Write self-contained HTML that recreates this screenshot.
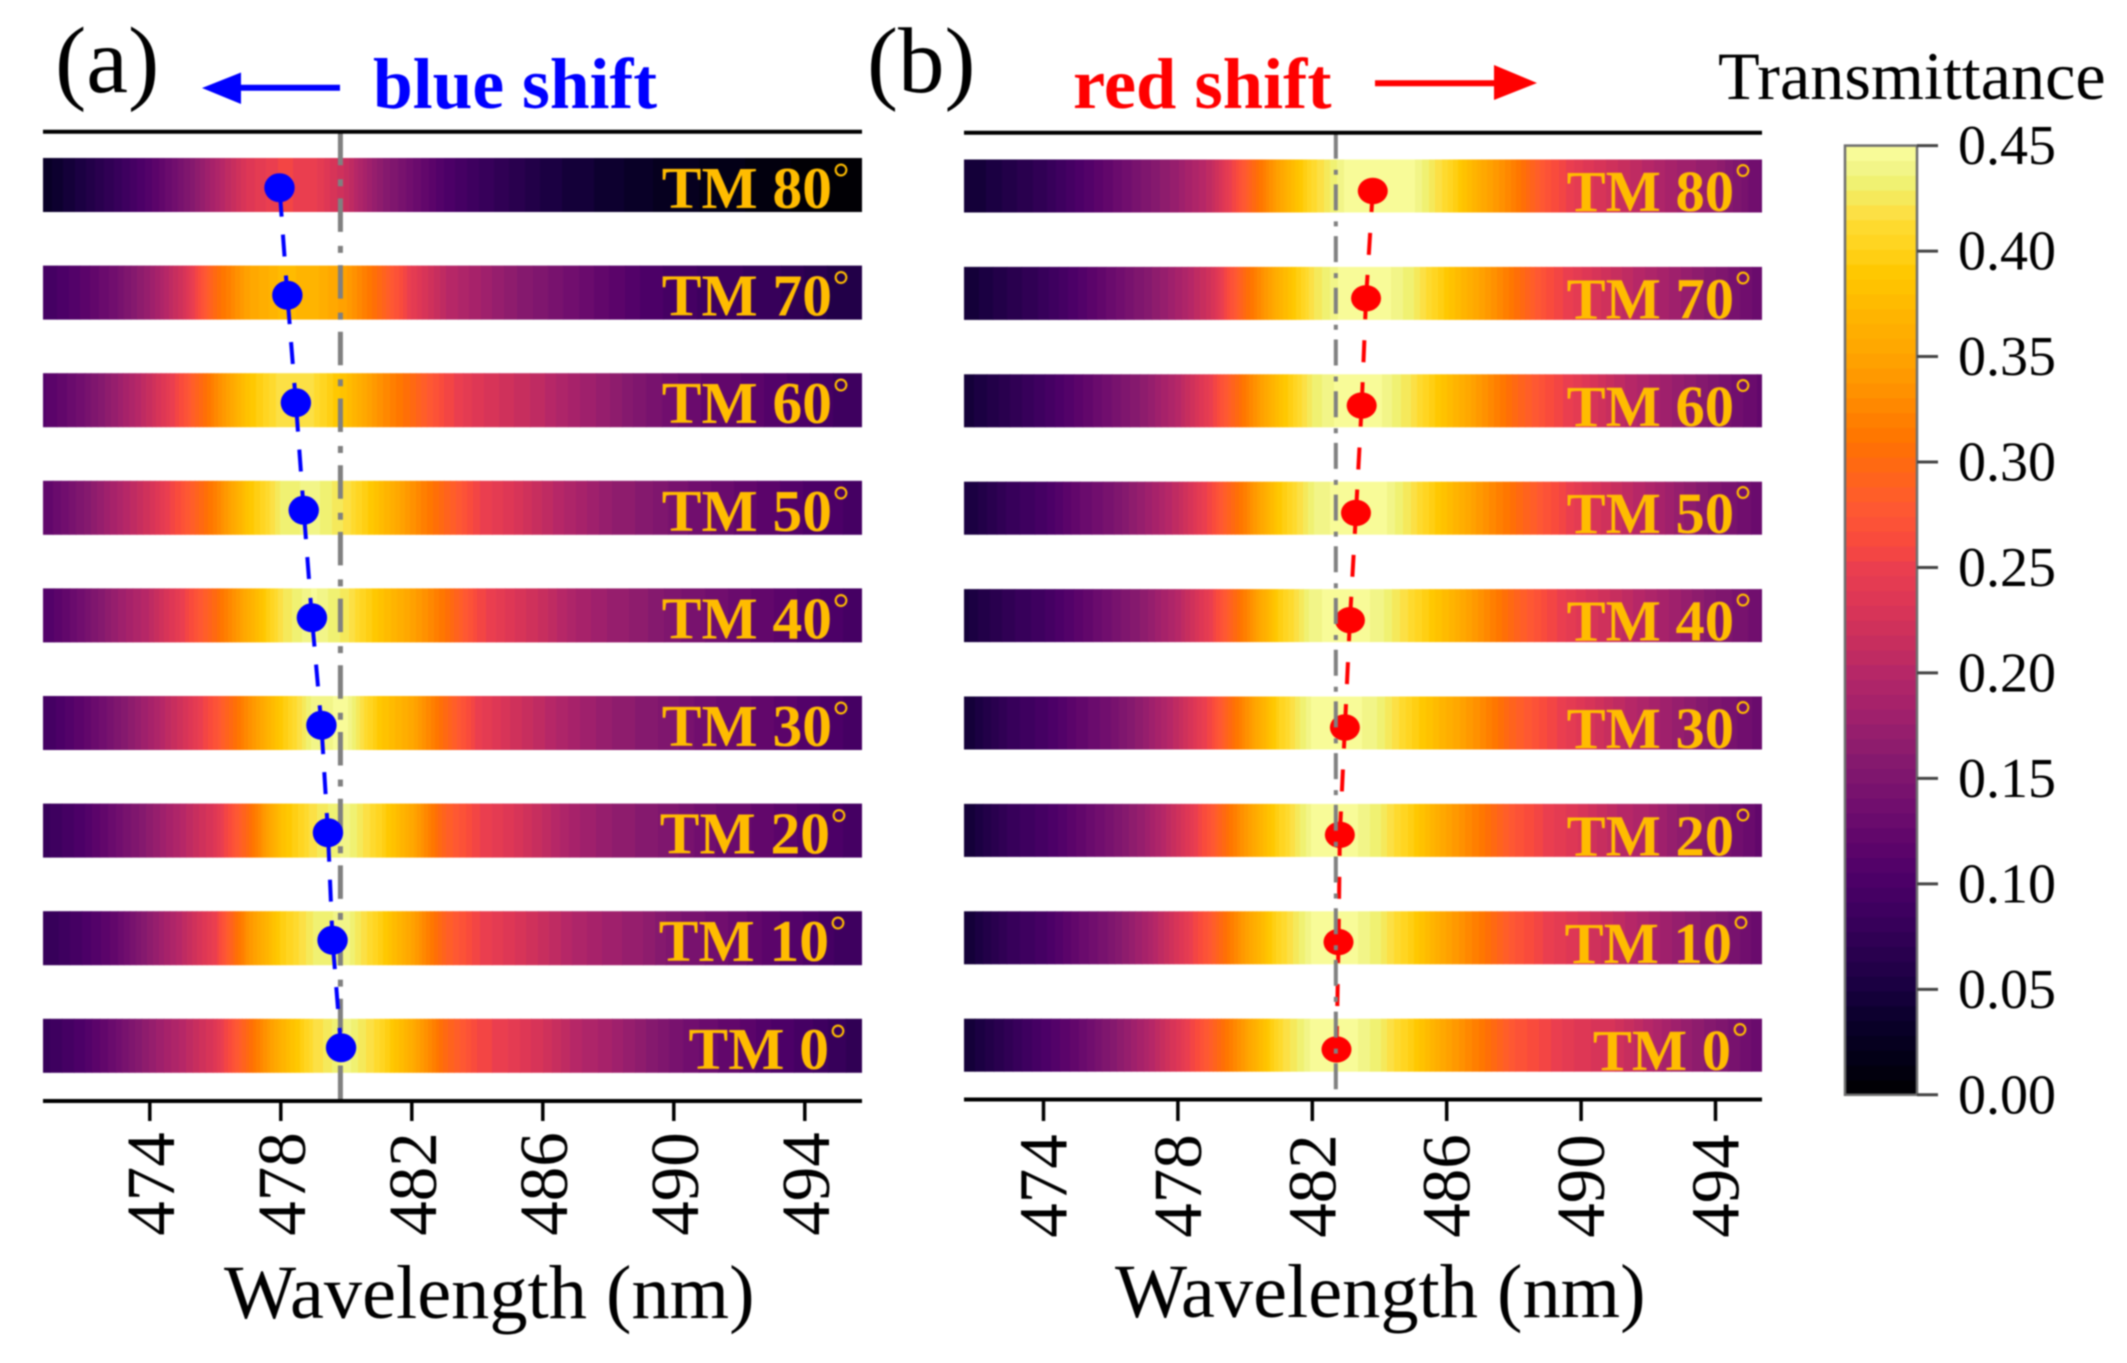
<!DOCTYPE html>
<html lang="en">
<head>
<meta charset="utf-8">
<title>Transmittance heatmaps: blue shift and red shift</title>
<style>
html,body{margin:0;padding:0;background:#fff;}
svg{display:block;filter:blur(0.7px);}
text{font-family:"Liberation Serif",serif;}
</style>
</head>
<body>
<svg id="chart" xmlns="http://www.w3.org/2000/svg" width="2127" height="1363" viewBox="0 0 2127 1363">
  <rect x="0" y="0" width="2127" height="1363" fill="#fff"/>
  <text x="55" y="92" font-size="94" fill="#000">(a)</text>
  <text x="867" y="92" font-size="93" fill="#000">(b)</text>
  <text x="373" y="108" font-size="71.5" font-weight="bold" fill="#0000ff">blue shift</text>
  <text x="1073" y="108" font-size="72.5" font-weight="bold" fill="#ff0000">red shift</text>
  <g>
    <line x1="238" y1="87.7" x2="340" y2="87.7" stroke="#0000ff" stroke-width="6"/>
    <polygon points="202,88 241,72.5 241,104" fill="#0000ff"/>
  </g>
  <g>
    <line x1="1375" y1="83.3" x2="1497" y2="83.3" stroke="#ff0000" stroke-width="6"/>
    <polygon points="1537,83 1494,65 1494,100" fill="#ff0000"/>
  </g>
  <text x="1718" y="99" font-size="68.2" fill="#000">Transmittance</text>
  <g id="panelA"></g>
  <g id="panelB"></g>
  <g id="colorbar"></g>
</svg>
<script>
// ---------- data ----------
const angles = [80, 70, 60, 50, 40, 30, 20, 10, 0];
const tickLabels = [474, 478, 482, 486, 490, 494];
const colorbarTicks = ["0.00", "0.05", "0.10", "0.15", "0.20", "0.25", "0.30", "0.35", "0.40", "0.45"];

// Peak wavelength (nm) for each angle
const peaksA = [477.96, 478.2, 478.46, 478.7, 478.95, 479.24, 479.44, 479.58, 479.84];
const peaksB = [483.8, 483.6, 483.47, 483.3, 483.12, 482.97, 482.82, 482.78, 482.72];

// Normal-incidence reference wavelength (nm)
const referenceA = 479.82;
const referenceB = 482.7;

// Wavelength samples (nm)
const wavelengthsA = [470, 471, 472, 473, 474, 475, 476, 477, 478, 479, 480, 481, 482, 483, 484, 485, 486, 487, 488, 489, 490, 491, 492, 493, 494, 495, 496];
const wavelengthsB = [471, 472, 473, 474, 475, 476, 477, 478, 479, 480, 481, 482, 483, 484, 485, 486, 487, 488, 489, 490, 491, 492, 493, 494, 495, 496];

// Panel (a) transmittance
const a80 = [.03, .035, .055, .08, .11, .145, .19, .235, .255, .25, .215, .165, .135, .105, .085, .07, .055, .045, .04, .03, .025, .02, .015, .01, .005, .003, .002];
const a70 = [.085, .095, .115, .14, .175, .225, .30, .35, .375, .37, .345, .30, .245, .205, .185, .165, .15, .135, .12, .105, .095, .09, .085, .08, .07, .06, .055];
const a60 = [.10, .115, .14, .175, .215, .265, .325, .385, .42, .415, .38, .335, .30, .26, .235, .22, .205, .185, .17, .15, .135, .125, .12, .11, .10, .09, .085];
const a50 = [.105, .125, .155, .19, .225, .27, .32, .385, .43, .44, .42, .38, .335, .295, .255, .235, .21, .19, .17, .16, .145, .135, .125, .115, .105, .10, .09];
const a40 = [.095, .11, .14, .175, .205, .25, .30, .36, .42, .445, .425, .385, .35, .31, .26, .235, .215, .19, .175, .165, .15, .14, .13, .12, .11, .10, .09];
const a30 = [.08, .095, .12, .15, .185, .225, .27, .33, .39, .44, .445, .39, .355, .30, .25, .225, .205, .185, .17, .16, .15, .135, .13, .12, .11, .10, .09];
const a20 = [.075, .085, .105, .135, .165, .20, .235, .30, .38, .42, .44, .405, .355, .29, .255, .235, .21, .185, .17, .16, .15, .135, .13, .12, .11, .10, .09];
const a10 = [.07, .08, .10, .125, .165, .205, .25, .335, .395, .43, .44, .40, .35, .29, .255, .235, .215, .195, .18, .17, .15, .14, .13, .115, .105, .09, .085];
const a0 = [.07, .085, .105, .135, .17, .20, .235, .30, .365, .415, .44, .41, .36, .30, .26, .245, .225, .20, .185, .165, .145, .13, .12, .105, .095, .08, .07];

// Panel (b) transmittance
const b80 = [.04, .045, .06, .075, .10, .125, .15, .175, .21, .28, .35, .41, .445, .45, .445, .41, .36, .32, .27, .24, .22, .20, .18, .17, .14, .12];
const b70 = [.04, .048, .065, .08, .105, .13, .155, .185, .225, .30, .365, .42, .45, .45, .43, .39, .35, .31, .265, .24, .215, .195, .175, .155, .135, .12];
const b60 = [.04, .05, .07, .09, .115, .14, .165, .20, .25, .315, .38, .43, .45, .445, .42, .38, .34, .30, .265, .24, .21, .19, .17, .15, .13, .115];
const b50 = [.04, .055, .08, .095, .125, .145, .175, .21, .26, .32, .39, .435, .45, .45, .42, .38, .34, .305, .27, .24, .215, .195, .17, .15, .135, .115];
const b40 = [.03, .055, .075, .09, .115, .14, .165, .20, .25, .32, .395, .44, .45, .44, .41, .375, .335, .295, .26, .235, .215, .195, .175, .155, .14, .12];
const b30 = [.03, .05, .08, .095, .12, .14, .17, .21, .26, .33, .40, .445, .45, .435, .40, .365, .33, .29, .26, .235, .21, .19, .17, .15, .135, .12];
const b20 = [.03, .05, .08, .095, .12, .145, .175, .22, .275, .34, .40, .445, .45, .43, .395, .35, .315, .275, .25, .23, .205, .19, .165, .15, .13, .11];
const b10 = [.03, .05, .08, .095, .125, .15, .185, .23, .28, .345, .405, .445, .45, .43, .395, .35, .315, .275, .25, .23, .21, .19, .17, .155, .135, .115];
const b0 = [.035, .05, .075, .10, .125, .155, .19, .235, .285, .345, .41, .445, .45, .43, .395, .35, .315, .275, .255, .235, .225, .20, .175, .155, .135, .115];

const rowsA = [a80, a70, a60, a50, a40, a30, a20, a10, a0];
const rowsB = [b80, b70, b60, b50, b40, b30, b20, b10, b0];

// ---------- colormap ----------
const cmapValues = [0, .02, .04, .05, .06, .08, .10, .12, .14, .16, .18, .20, .21, .23, .25, .26, .28, .30, .31, .33, .35, .37, .39, .40, .41, .42, .43, .44, .45];
const cmapColors = ["#000000", "#03001a", "#0e0030", "#180040", "#220048", "#360059", "#4a0067", "#5f056b", "#74106e", "#871a6e", "#a0206c", "#b52767", "#c22c60", "#d93557", "#ea3e4f", "#f8483f", "#ff5a30", "#ff6a10", "#ff7300", "#ff8c00", "#ffa300", "#ffb500", "#ffc800", "#ffd21a", "#ffd92a", "#fbe14a", "#eff06a", "#f2f58a", "#fbff9f"];
const levels = 64;
const vMax = 0.45;

function hexToRgb(h) {
  return [parseInt(h.slice(1, 3), 16), parseInt(h.slice(3, 5), 16), parseInt(h.slice(5, 7), 16)];
}
function colorFor(v) {
  let i = 0;
  while (i < cmapValues.length - 2 && v > cmapValues[i + 1]) i++;
  const t = Math.max(0, Math.min(1, (v - cmapValues[i]) / (cmapValues[i + 1] - cmapValues[i])));
  const a = hexToRgb(cmapColors[i]);
  const b = hexToRgb(cmapColors[i + 1]);
  return "rgb(" + a.map((c, k) => Math.round(c + (b[k] - c) * t)).join(",") + ")";
}
function levelOf(v) {
  return Math.max(0, Math.min(levels - 1, Math.floor(v / vMax * levels)));
}
function levelColor(l) {
  return colorFor((l + 0.5) / levels * vMax);
}
function sample(waves, vals, w) {
  if (w <= waves[0]) return vals[0];
  for (let i = 0; i < waves.length - 1; i++) {
    if (w <= waves[i + 1]) {
      return vals[i] + (vals[i + 1] - vals[i]) * (w - waves[i]) / (waves[i + 1] - waves[i]);
    }
  }
  return vals[vals.length - 1];
}

// ---------- svg helper ----------
const NS = "http://www.w3.org/2000/svg";
function mk(tag, attrs, parent, txt) {
  const el = document.createElementNS(NS, tag);
  for (const k in attrs) el.setAttribute(k, attrs[k]);
  if (txt !== undefined) el.textContent = txt;
  parent.appendChild(el);
  return el;
}

// ---------- panels ----------
function drawPanel(root, cfg) {
  const xOf = w => cfg.x474 + (w - 474) * cfg.pxPerNm;
  const wOf = x => 474 + (x - cfg.x474) / cfg.pxPerNm;
  const rowTop = i => cfg.top0 + i * cfg.pitch;

  // heat strips
  cfg.rows.forEach((vals, i) => {
    const strip = mk("g", {}, root);
    
    
    let start = cfg.left;
    let cur = levelOf(sample(cfg.waves, vals, wOf(cfg.left)));
    for (let x = cfg.left + 1; x <= cfg.right; x++) {
      const l = x === cfg.right ? -1 : levelOf(sample(cfg.waves, vals, wOf(x + 0.5)));
      if (l !== cur) {
        const cell = mk("rect", {
          x: start, y: rowTop(i), width: x - start + (x === cfg.right ? 0 : 0.5),
          height: cfg.barH, fill: levelColor(cur)
        }, strip);
        
        
        start = x;
        cur = l;
      }
    }
  });

  // reference line
  function drawRef() {
    const ref = mk("line", {
      x1: xOf(cfg.reference), x2: xOf(cfg.reference), y1: cfg.topY, y2: cfg.bottomY,
      stroke: "#808080", "stroke-width": cfg.refW, "stroke-dasharray": cfg.refDash
    }, root);
    
    
  }
  if (!cfg.refOnTop) drawRef();

  // connecting dashes and markers
  const mY = i => cfg.markerY0 + i * cfg.markerPitch;
  for (let i = 0; i < cfg.peaks.length - 1; i++) {
    const x1 = xOf(cfg.peaks[i]);
    const x2 = xOf(cfg.peaks[i + 1]);
    const y1 = mY(i);
    const y2 = mY(i + 1);
    const seg = mk("line", {
      x1: x1, y1: y1, x2: x2, y2: y2, stroke: cfg.color, "stroke-width": 4,
      "stroke-dasharray": cfg.segDash
    }, root);
    
    
  }
  cfg.peaks.forEach((p, i) => {
    const m = mk("ellipse", {
      cx: xOf(p), cy: mY(i), rx: cfg.rx, ry: cfg.ry, fill: cfg.color
    }, root);
    
    
  });
  if (cfg.refOnTop) drawRef();

  // row labels
  angles.forEach((ang, i) => {
    const nudge = cfg.labelNudge(ang);
    const lbl = mk("text", {
      x: cfg.labelRight + nudge, y: rowTop(i) + cfg.labelDy, "text-anchor": "end",
      "font-size": cfg.labelSize, "font-weight": "bold", fill: "#ffbc00"
    }, root, "TM " + ang);
    
    
    const deg = mk("text", {
      x: cfg.labelRight + nudge + 9, y: rowTop(i) + cfg.ringDy, "text-anchor": "middle",
      "font-size": 42, fill: "#ffbc00"
    }, root, "\u00B0");
    
    
  });

  // axis spines
  [cfg.topY, cfg.bottomY].forEach((y, k) => {
    const sp = mk("line", {
      x1: cfg.left, x2: cfg.right, y1: y, y2: y, stroke: "#000", "stroke-width": 4
    }, root);
    
    
  });

  // ticks and tick labels
  tickLabels.forEach(t => {
    const x = xOf(t);
    const tk = mk("line", {
      x1: x, x2: x, y1: cfg.bottomY, y2: 1121, stroke: "#000", "stroke-width": 3.5
    }, root);
    
    
    const bx = x + cfg.tickLabelDx;
    const tl = mk("text", {
      x: bx, y: cfg.tickLabelY, "text-anchor": "middle", "font-size": 69, fill: "#000",
      transform: "rotate(-90 " + bx + " " + cfg.tickLabelY + ")"
    }, root, String(t));
    
    
  });

  const title = mk("text", {
    x: cfg.titleX, y: cfg.titleY, "font-size": 76.4, fill: "#000"
  }, root, "Wavelength (nm)");
  
  
}

drawPanel(document.getElementById("panelA"), {
  rows: rowsA, waves: wavelengthsA, peaks: peaksA, reference: referenceA,
  x474: 149.8, pxPerNm: 32.75, left: 43, right: 862,
  top0: 158, pitch: 107.6, barH: 54,
  topY: 131.7, bottomY: 1101,
  color: "#0000ff", refW: 5, refDash: "33.5 14 7 12.2", refOnTop: false,
  segDash: "29 18 22 19 60",
  markerY0: 187.7, markerPitch: 107.5, rx: 15.2, ry: 14.5,
  labelRight: 832, labelDy: 50, ringDy: 34, labelSize: 59.5,
  labelNudge: a => (a >= 30 ? 0 : a === 20 ? -2 : -3),
  tickLabelDx: 24, tickLabelY: 1184,
  titleX: 224, titleY: 1318
});
drawPanel(document.getElementById("panelB"), {
  rows: rowsB, waves: wavelengthsB, peaks: peaksB, reference: referenceB,
  x474: 1043.5, pxPerNm: 33.6, left: 964, right: 1762,
  top0: 159.5, pitch: 107.4, barH: 53,
  topY: 132.7, bottomY: 1099.5,
  color: "#ff0000", refW: 4, refDash: "26 11 5 9.7", refOnTop: true,
  segDash: "21 21 22 20 60",
  markerY0: 191, markerPitch: 107.3, rx: 15, ry: 13.2,
  labelRight: 1734, labelDy: 51.5, ringDy: 33, labelSize: 58.5,
  labelNudge: a => (a >= 30 ? 0 : a === 20 ? 0 : a === 10 ? -2 : -3),
  tickLabelDx: 23, tickLabelY: 1186,
  titleX: 1115, titleY: 1317
});

// ---------- colorbar ----------
(function () {
  const root = document.getElementById("colorbar");
  const left = 1845, right = 1917, y0 = 1094.8, y1 = 145.6;
  const yOf = v => y0 + (y1 - y0) * v / vMax;
  for (let l = 0; l < levels; l++) {
    const vLow = l / levels * vMax;
    const vHigh = (l + 1) / levels * vMax;
    const band = mk("rect", {
      x: left, y: yOf(vHigh), width: right - left, height: yOf(vLow) - yOf(vHigh) + 0.5,
      fill: levelColor(l)
    }, root);
    
    
  }
  const frame = mk("rect", {
    x: left, y: y1, width: right - left, height: y0 - y1, fill: "none",
    stroke: "#6e6e6e", "stroke-width": 2.5
  }, root);
  
  
  colorbarTicks.forEach(t => {
    const y = yOf(parseFloat(t));
    const tk = mk("line", {
      x1: right, x2: 1938, y1: y, y2: y, stroke: "#444", "stroke-width": 3
    }, root);
    
    
    const lb = mk("text", { x: 1958, y: y + 18.5, "font-size": 56, fill: "#000" }, root, t);
    
    
  });
})();
</script>
</body>
</html>
